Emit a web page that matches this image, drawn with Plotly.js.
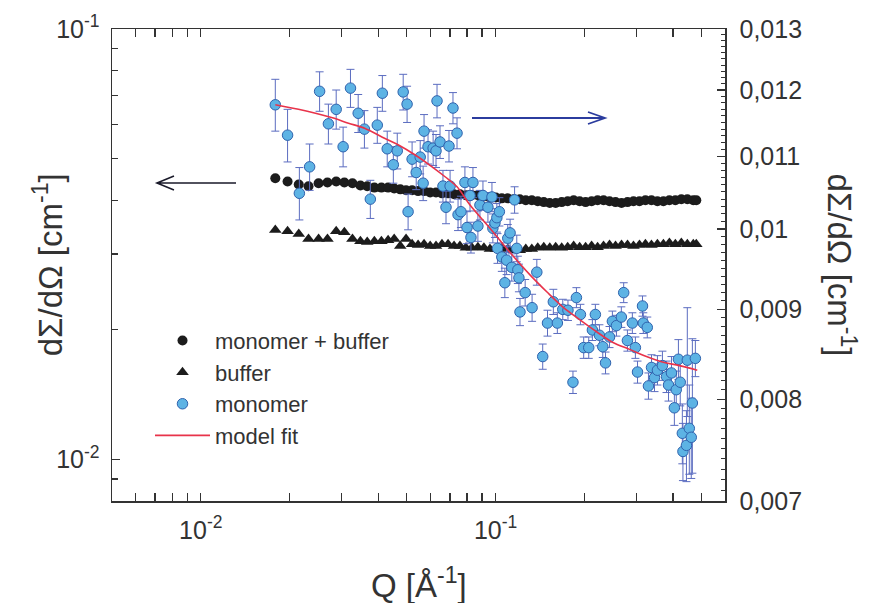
<!DOCTYPE html>
<html><head><meta charset="utf-8">
<script src="https://cdn.plot.ly/plotly-3.0.1.min.js"></script>
<style>html,body{margin:0;padding:0;background:#fff}#chart{width:869px;height:603px}</style>
</head><body><div id="chart"></div>
<script>
// Q grid of the two measured (left axis) series, 1/Å
const qBlack = [0.0179,0.0197,0.0215,0.0232,0.0251,0.0269,0.0288,0.0307,0.0327,0.0348,0.0367,
0.0388,0.0410,0.0432,0.0453,0.0475,0.0497,0.0521,0.0546,0.0572,0.0600,
0.0628,0.0658,0.0690,0.0723,0.0757,0.0793,0.0831,0.0871,0.0913,0.0957,
0.1002,0.1050,0.1100,0.1153,0.1208,0.1266,0.1327,0.1390,0.1457,
0.1527,0.1599,0.1676,0.1756,0.1840,0.1928,0.2020,0.2117,0.2218,0.2324,
0.2435,0.2552,0.2674,0.2802,0.2936,0.3076,0.3223,0.3378,0.3539,
0.3709,0.3886,0.4072,0.4266,0.4471,0.4684,0.4795];
// monomer + buffer, cm^-1 (left axis)
const monoBuffer = [0.0450,0.0442,0.0435,0.0431,0.0438,0.0440,0.0442,0.0440,0.0438,0.0433,
0.0431,0.0428,0.0428,0.0428,0.0426,0.0424,0.0422,0.0422,0.0420,0.0420,
0.0417,0.0417,0.0415,0.0415,0.0413,0.0413,0.0411,0.0411,0.0411,0.0408,
0.0406,0.0406,0.0404,0.0404,0.0402,0.0402,0.0400,0.0400,0.0398,0.0396,
0.0394,0.0394,0.0396,0.0398,0.0400,0.0398,0.0396,0.0398,0.0400,0.0400,
0.0398,0.0396,0.0394,0.0396,0.0398,0.0398,0.0400,0.0400,0.0398,0.0398,
0.0400,0.0400,0.0402,0.0402,0.0400,0.0400];
// buffer, cm^-1 (left axis)
const buffer = [0.0341,0.0339,0.0334,0.0325,0.0325,0.0325,0.0339,0.0337,0.0325,0.0321,
0.0320,0.0321,0.0321,0.0323,0.0325,0.0313,0.0325,0.0316,0.0315,0.0316,
0.0313,0.0313,0.0316,0.0316,0.0313,0.0313,0.0310,0.0310,0.0311,0.0310,
0.0308,0.0308,0.0310,0.0308,0.0306,0.0306,0.0308,0.0308,0.0310,0.0311,
0.0310,0.0311,0.0310,0.0311,0.0313,0.0311,0.0311,0.0313,0.0311,0.0313,
0.0315,0.0313,0.0315,0.0315,0.0313,0.0315,0.0316,0.0315,0.0316,0.0316,
0.0318,0.0316,0.0318,0.0316,0.0316,0.0316];
// monomer (difference), right axis
const qMono = [0.0179,0.0197,0.0216,0.0234,0.0253,0.0271,0.0288,0.0304,0.0322,0.0342,
0.0359,0.0376,0.0397,0.0413,0.0429,0.0450,0.0464,0.0486,0.0501,0.0505,
0.0521,0.0538,0.0555,0.0568,0.0572,0.0590,0.0614,0.0628,0.0633,0.0648,
0.0663,0.0679,0.0695,0.0701,0.0717,0.0740,0.0746,0.0763,0.0787,0.0800,
0.0819,0.0825,0.0838,0.0871,0.0885,0.0906,0.0942,0.0972,0.0979,0.0995,
0.101,0.1015,0.103,0.105,0.1075,0.109,0.110,0.112,0.1135,0.116,
0.118,0.119,0.120,0.121,0.126,0.133,0.138,0.1445,0.150,0.157,
0.162,0.169,0.176,0.183,0.188,0.194,0.199,0.207,0.213,0.218,
0.225,0.231,0.236,0.2435,0.249,0.257,0.267,0.272,0.280,0.291,
0.298,0.303,0.315,0.317,0.327,0.330,0.338,0.346,0.354,0.368,
0.380,0.386,0.395,0.404,0.410,0.417,0.423,0.430,0.432,0.444,
0.447,0.454,0.461,0.465,0.476];
const monomer = [0.01177,0.01131,0.01048,0.01085,0.01198,0.01148,0.01170,0.01114,0.01203,0.01164,
0.01140,0.01040,0.01146,0.01195,0.01111,0.01088,0.01108,0.01197,0.01178,0.01023,
0.01096,0.01077,0.01099,0.01062,0.01137,0.01114,0.01112,0.01108,0.01183,0.01121,
0.01058,0.01029,0.01115,0.01058,0.01172,0.01134,0.01019,0.01023,0.01063,0.01002,
0.01045,0.00989,0.01063,0.01004,0.01032,0.01045,0.01029,0.01043,0.01001,0.01008,
0.01015,0.00975,0.01023,0.00964,0.00932,0.00960,0.00988,0.00995,0.00951,0.01039,
0.00975,0.00948,0.00938,0.00897,0.00920,0.00902,0.00945,0.00846,0.00884,0.00909,
0.00884,0.00900,0.00899,0.00818,0.00914,0.00894,0.00856,0.00856,0.00876,0.00894,
0.00870,0.00857,0.00839,0.00868,0.00886,0.00881,0.00891,0.00920,0.00864,0.00884,
0.00856,0.00829,0.00904,0.00884,0.00879,0.00814,0.00834,0.00823,0.00831,0.00836,
0.00824,0.00815,0.00828,0.00791,0.00810,0.00843,0.00818,0.00765,0.00747,0.00753,
0.00842,0.00770,0.00761,0.00796,0.00844];
const monomerErr = [0.00040,0.00039,0.00036,0.00033,0.00031,0.00030,0.00030,0.00029,0.00030,0.00029,
0.00028,0.00026,0.00027,0.00028,0.00026,0.00026,0.00026,0.00028,0.00028,0.00024,
0.00025,0.00024,0.00024,0.00024,0.00025,0.00025,0.00025,0.00024,0.00026,0.00024,
0.00022,0.00022,0.00023,0.00022,0.00024,0.00023,0.00021,0.00021,0.00022,0.00021,
0.00021,0.00020,0.00021,0.00020,0.00020,0.00020,0.00020,0.00020,0.00019,0.00019,
0.00019,0.00019,0.00019,0.00018,0.00018,0.00018,0.00018,0.00018,0.00017,0.00018,
0.00017,0.00017,0.00017,0.00016,0.00016,0.00016,0.00016,0.00014,0.00015,0.00015,
0.00012,0.00012,0.00012,0.00012,0.00012,0.00012,0.00012,0.00012,0.00012,0.00012,
0.00012,0.00012,0.00012,0.00012,0.00012,0.00012,0.00012,0.00012,0.00012,0.00012,
0.00012,0.00012,0.00012,0.00012,0.00012,0.00014,0.00014,0.00015,0.00016,0.00016,
0.00017,0.00017,0.00018,0.00018,0.00020,0.00022,0.00025,0.00030,0.00028,0.00035,
0.00060,0.00045,0.00040,0.00070,0.00020];
// model fit (right axis)
const qFit = [0.0179,0.02145,0.0245,0.02795,0.0317,0.0361,0.0413,0.0467,0.0534,0.0609,0.0674,0.0740,0.0819,
0.0957,0.1118,0.1306,0.1491,0.1689,0.1928,0.2201,0.2493,0.2846,0.3249,0.3680,0.4202,0.4832];
const fit = [0.01177,0.01170,0.01164,0.01157,0.01149,0.01141,0.01128,0.01117,0.01102,0.01085,0.01071,0.01057,0.01032,
0.01001,0.00970,0.00942,0.00921,0.00903,0.00888,0.00874,0.00862,0.00854,0.00846,0.00840,0.00836,0.00831];

const logTicks = ['10<sup>-2</sup>','10<sup>-1</sup>'];
const rightTickVals = [0.007,0.008,0.009,0.010,0.011,0.012,0.013];
const rightTickText = ['0,007','0,008','0,009','0,01','0,011','0,012','0,013'];

function logMinors(lo, hi){ const a=[]; for(let e=-4;e<=0;e++){for(let m=2;m<=9;m++){const v=m*Math.pow(10,e); if(v>=lo*0.999&&v<=hi*1.001)a.push(v);}} return a; }
function linMinors(lo, hi, step){ const a=[]; const n=Math.round((hi-lo)/step); for(let i=0;i<=n;i++){const v=lo+i*step; if(i%10!==0)a.push(+v.toFixed(6));} return a; }

const FONT = 'Liberation Sans, Arial, Helvetica, sans-serif';
const TXT = '#333333';
const AX = '#333333';

const traces = [
 {x:qBlack, y:monoBuffer, name:'monomer + buffer', type:'scatter', mode:'markers',
  marker:{symbol:'circle', size:10, color:'#1c1c1c'}},
 {x:qBlack, y:buffer, name:'buffer', type:'scatter', mode:'markers',
  marker:{symbol:'triangle-up', size:11, color:'#1c1c1c'}},
 {x:qMono, y:monomer, name:'monomer', type:'scatter', mode:'markers', yaxis:'y2',
  marker:{symbol:'circle', size:10.5, color:'#5db3e4', line:{color:'#2f62ad', width:1}},
  error_y:{type:'data', array:monomerErr, visible:true, color:'#5b6cc0', thickness:1, width:4}},
 {x:qFit, y:fit, name:'model fit', type:'scatter', mode:'lines', yaxis:'y2',
  line:{color:'#e8334a', width:1.6, shape:'spline'}}
];

const layout = {
 width:869, height:603,
 margin:{l:112, r:144, t:29, b:102},
 paper_bgcolor:'#ffffff', plot_bgcolor:'#ffffff',
 font:{family:FONT, color:TXT, size:22},
 showlegend:true,
 legend:{x:0.062, y:0.384, xanchor:'left', yanchor:'top', bgcolor:'rgba(0,0,0,0)',
   font:{size:22, color:TXT, family:FONT}, itemwidth:55, tracegroupgap:0},
 xaxis:{type:'log', range:[Math.log10(0.005), Math.log10(0.6)], showgrid:false, zeroline:false,
   showline:true, linecolor:AX, linewidth:1.5, mirror:'allticks',
   ticks:'inside', ticklen:8, tickwidth:1.3, tickcolor:AX,
   tickmode:'array', tickvals:[0.01,0.1], ticktext:logTicks, ticklabelstandoff:6,
   tickfont:{size:25, color:TXT},
   minor:{tickmode:'array', tickvals:logMinors(0.005,0.6), ticks:'inside', ticklen:5, tickwidth:1.2, tickcolor:AX}},
 yaxis:{type:'log', range:[Math.log10(0.008), -1], showgrid:false, zeroline:false,
   showline:true, linecolor:AX, linewidth:1.5,
   ticks:'inside', ticklen:8, tickwidth:1.3, tickcolor:AX,
   tickmode:'array', tickvals:[0.01,0.1], ticktext:logTicks, ticklabelstandoff:6,
   tickfont:{size:25, color:TXT},
   minor:{tickmode:'array', tickvals:logMinors(0.008,0.1), ticks:'inside', ticklen:6, tickwidth:1.2, tickcolor:AX}},
 yaxis2:{type:'log', overlaying:'y', side:'right', range:[Math.log10(0.007), Math.log10(0.013)],
   showgrid:false, zeroline:false, showline:true, linecolor:AX, linewidth:1.5,
   ticks:'inside', ticklen:8, tickwidth:1.3, tickcolor:AX,
   tickmode:'array', tickvals:rightTickVals, ticktext:rightTickText, ticklabelstandoff:8,
   tickfont:{size:25, color:TXT},
   minor:{tickmode:'array', tickvals:linMinors(0.007,0.013,0.0001), ticks:'inside', ticklen:4, tickwidth:1, tickcolor:AX}},
 annotations:[
  {text:'dΣ/dΩ [cm<sup>-1</sup>]', xref:'paper', yref:'paper', x:-0.104, y:0.5, textangle:-90,
   showarrow:false, font:{size:33, color:TXT}, xanchor:'center', yanchor:'middle'},
  {text:'dΣ/dΩ [cm<sup>-1</sup>]', xref:'paper', yref:'paper', x:1.19, y:0.5, textangle:90,
   showarrow:false, font:{size:33, color:TXT}, xanchor:'center', yanchor:'middle'},
  {text:'Q [Å<sup>-1</sup>]', xref:'paper', yref:'paper', x:0.5, y:-0.174,
   showarrow:false, font:{size:33, color:TXT}, xanchor:'center', yanchor:'middle'}
 ],
 shapes:[
  {type:'path', xref:'paper', yref:'paper', path:'M 0.2023 0.6737 L 0.0734 0.6737 M 0.1011 0.6886 L 0.0734 0.6737 L 0.1011 0.6589',
   line:{color:'#1a1a2a', width:1.6}},
  {type:'path', xref:'paper', yref:'paper', path:'M 0.5873 0.8114 L 0.8042 0.8114 M 0.7765 0.8242 L 0.8042 0.8114 L 0.7765 0.7987',
   line:{color:'#2b3c9e', width:1.8}}
 ]
};

Plotly.newPlot('chart', traces, layout, {displayModeBar:false, staticPlot:true});
</script></body></html>
